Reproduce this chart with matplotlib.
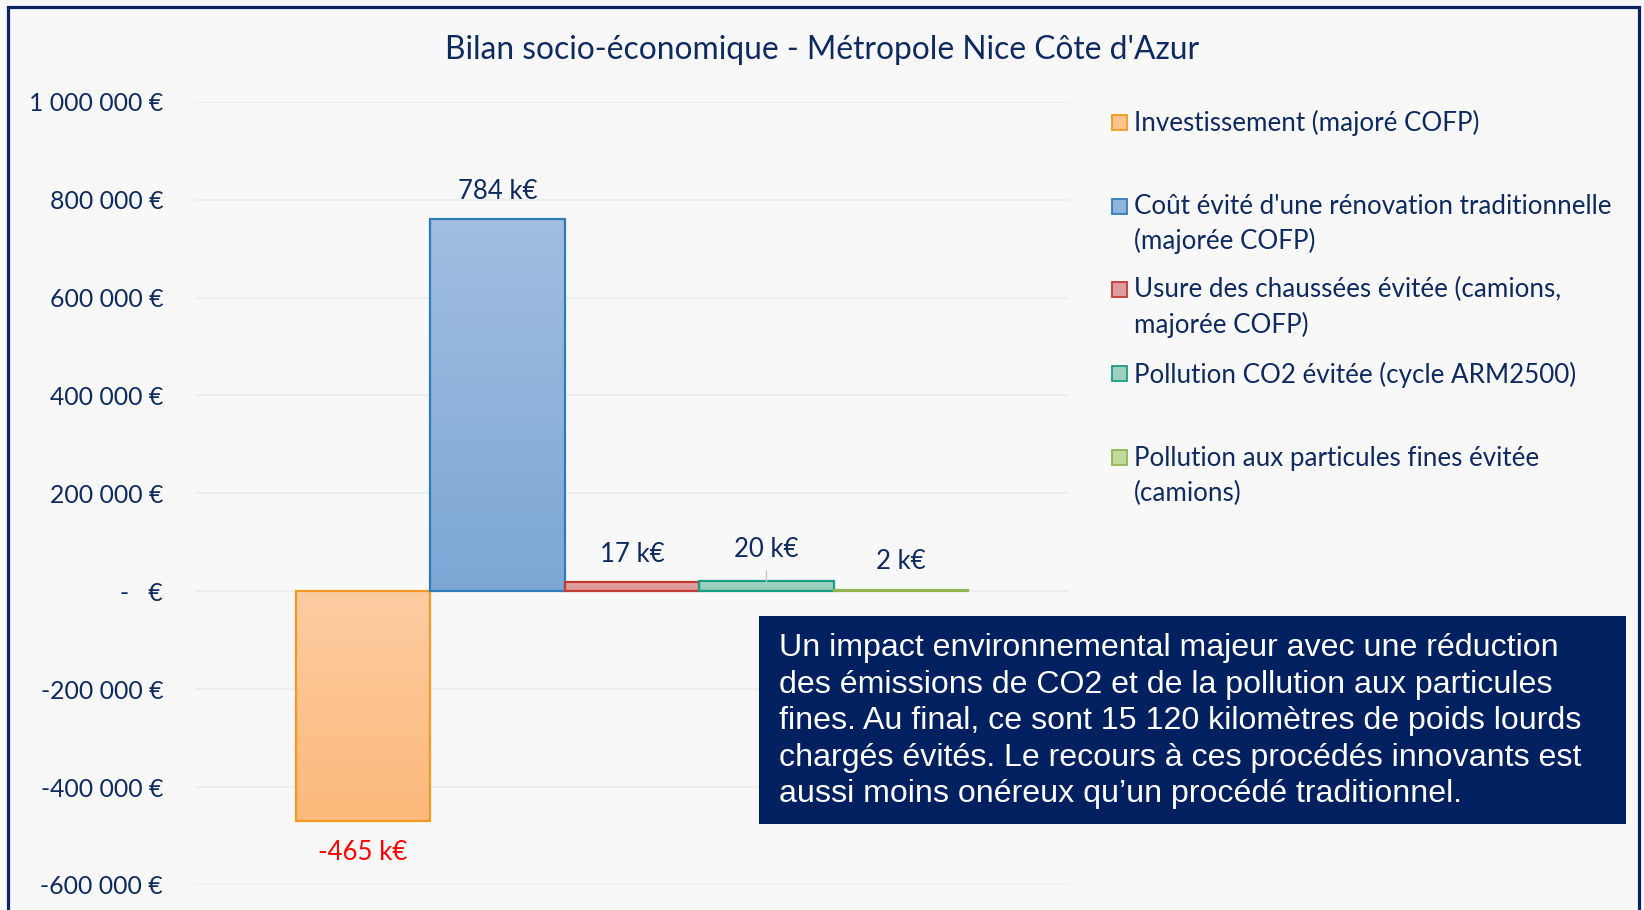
import numpy as np
import matplotlib.pyplot as plt
from matplotlib.patches import Rectangle
from matplotlib.colors import to_rgb

# données
series = [
    "Investissement (majoré COFP)",
    "Coût évité d'une rénovation traditionnelle\n(majorée COFP)",
    "Usure des chaussées évitée (camions,\nmajorée COFP)",
    "Pollution CO2 évitée (cycle ARM2500)",
    "Pollution aux particules fines évitée\n(camions)",
]
values = [-470000, 761000, 18000, 20000, 2000]
value_labels = ["-465 k€", "784 k€", "17 k€", "20 k€", "2 k€"]
ytick_vals = [-600000, -400000, -200000, 0, 200000, 400000, 600000, 800000, 1000000]
ytick_labels = ["-600 000 €", "-400 000 €", "-200 000 €", "-   €", "200 000 €",
                "400 000 €", "600 000 €", "800 000 €", "1 000 000 €"]

fill_top = ["#fdcca1", "#a2bee1", "#e3a6a6", "#a6d6c6", "#c8dfa4"]
fill_bot = ["#fcb97b", "#7ca7d5", "#d99494", "#93c9b6", "#bcd695"]
edges = ["#f29a22", "#2f7cbd", "#c23b36", "#1a9e84", "#93b653"]

box_lines = [
    "Un impact environnemental majeur avec une réduction",
    "des émissions de CO2 et de la pollution aux particules",
    "fines. Au final, ce sont 15 120 kilomètres de poids lourds",
    "chargés évités. Le recours à ces procédés innovants est",
    "aussi moins onéreux qu\u2019un procédé traditionnel.",
]

navy = "#0e2a5e"
plt.rcParams["font.family"] = ["Lato", "DejaVu Sans"]

W, H = 1644, 910
fx = lambda px: px / W
fy = lambda py: 1 - py / H

fig = plt.figure(figsize=(W / 100, H / 100), dpi=100)
fig.patch.set_facecolor("#f8f8f8")

ax = fig.add_axes([fx(195), fy(885), fx(1069) - fx(195), fy(101.7) - fy(885)])
ax.set_facecolor("#f8f8f8")

x = np.arange(len(values))
bars = ax.bar(x, values, width=1.0, facecolor="none", edgecolor=edges, linewidth=1.6, zorder=3)

# dégradé vertical dans chaque barre
for b, c1, c2 in zip(bars, fill_top, fill_bot):
    t = np.linspace(0, 1, 200).reshape(-1, 1, 1)
    img = (1 - t) * np.array(to_rgb(c1)) + t * np.array(to_rgb(c2))
    y0, y1 = sorted([b.get_y(), b.get_y() + b.get_height()])
    im = ax.imshow(img, extent=[b.get_x(), b.get_x() + b.get_width(), y0, y1],
                   aspect="auto", origin="upper", zorder=2)
    im.set_clip_path(b)

ax.set_xlim(-1.25, 5.25)
ax.set_ylim(-600000, 1000000)
ax.set_yticks(ytick_vals)
ax.set_yticklabels(ytick_labels, fontsize=17.8, color=navy)
ax.set_xticks([])
ax.tick_params(axis="y", length=0, pad=23)
ax.grid(axis="y", color="#e9eded", linewidth=1.2, zorder=0)
ax.set_axisbelow(True)
for s in ax.spines.values():
    s.set_visible(False)

# étiquettes de valeurs
for i, (v, lab) in enumerate(zip(values, value_labels)):
    if v < 0:
        ax.annotate(lab, (i, v), xytext=(0, -27.7), textcoords="offset points",
                    ha="center", va="baseline", fontsize=18.5, color="#ff0000")
    elif i == 3:
        ax.annotate(lab, (i, v), xytext=(0, 17.3), textcoords="offset points",
                    ha="center", va="baseline", fontsize=18.5, color=navy,
                    arrowprops=dict(arrowstyle="-", color="#c8c8c8", lw=1, shrinkA=4, shrinkB=0))
    else:
        off = 15.1 if i == 4 else 14.4
        ax.annotate(lab, (i, v), xytext=(0, off), textcoords="offset points",
                    ha="center", va="baseline", fontsize=18.5, color=navy)

fig.text(fx(822), fy(50), "Bilan socio-économique - Métropole Nice Côte d'Azur",
         ha="center", va="center", fontsize=22.9, color=navy)

# légende (baseline = dernière ligne du texte)
for i, (name, c1, c2, ec) in enumerate(zip(series, fill_top, fill_bot, edges)):
    base = 131.5 + 83.7 * i
    nl = name.count("\n")
    mid = np.mean([to_rgb(c1), to_rgb(c2)], axis=0)
    fig.patches.append(Rectangle((fx(1112), fy(base - 1.5)), 15 / W, 15 / H,
                                 transform=fig.transFigure, facecolor=mid,
                                 edgecolor=ec, linewidth=1.3))
    fig.text(fx(1134), fy(base + 34.3 * nl), name, ha="left", va="baseline",
             fontsize=18.7, color=navy, linespacing=1.465)

# encadré texte
fig.patches.append(Rectangle((fx(759), fy(824)), (1626 - 759) / W, (824 - 616) / H,
                             transform=fig.transFigure, facecolor="#002060",
                             edgecolor="none", zorder=2))
fig.text(fx(779), fy(654 + 37 * (len(box_lines) - 1)), "\n".join(box_lines),
         ha="left", va="baseline", fontsize=23.1, color="white", linespacing=1.28,
         family=["Liberation Sans Narrow", "Liberation Sans", "DejaVu Sans"], zorder=4)

# cadre
fig.patches.append(Rectangle((fx(7.5), fy(930)), (1638.5 - 7.5) / W, (930 - 7.5) / H,
                             transform=fig.transFigure, facecolor="none",
                             edgecolor="#0b2461", linewidth=2.3, zorder=5))

fig.savefig("out.png", dpi=100, facecolor=fig.get_facecolor())
